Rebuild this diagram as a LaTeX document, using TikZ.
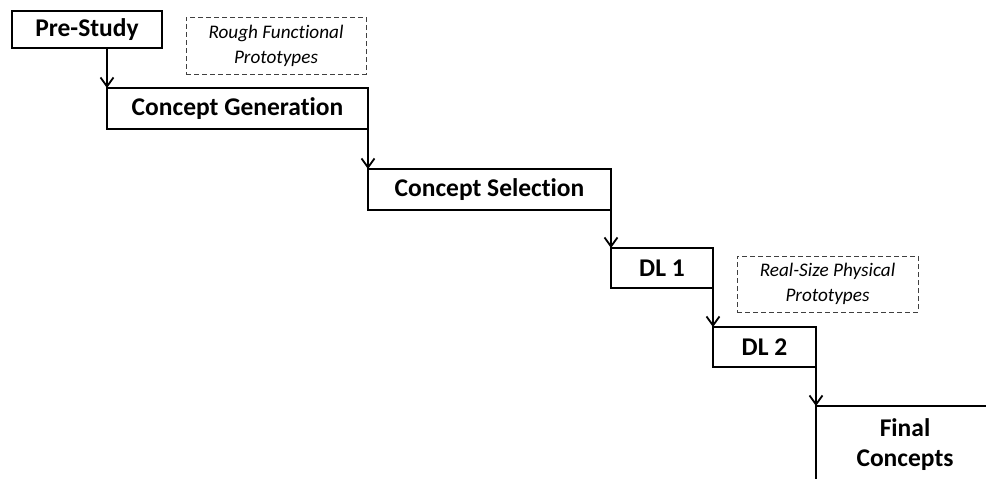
\documentclass[tikz,border=0pt]{standalone}
\usepackage{fontspec}
\setmainfont{Carlito}[Ligatures=NoCommon]
\usetikzlibrary{arrows.meta}
\begin{document}
\begin{tikzpicture}[x=1pt,y=-1pt,
  stage/.style={draw=black,line width=2.7pt,anchor=north west,inner sep=0pt,outer sep=0pt,
    font=\fontsize{25.5}{30}\selectfont\bfseries},
  note/.style={draw=black!75,line width=0.9pt,dash pattern=on 5pt off 3pt,anchor=north west,
    inner sep=0pt,outer sep=0pt,align=center,font=\fontsize{19.2}{25}\selectfont\itshape},
  arr/.style={line width=1.8pt,-{Straight Barb[length=9pt,width=13pt,line width=1.8pt]}}]
\useasboundingbox (0,0) rectangle (986,479);
\node[stage,minimum width=150pt,minimum height=37pt] (pre) at (12,11) {Pre-Study};
\node[stage,minimum width=261pt,minimum height=41pt] (cg) at (107,88) {Concept Generation};
\node[stage,minimum width=243pt,minimum height=41pt] (cs) at (368,169) {Concept Selection};
\node[stage,minimum width=102pt,minimum height=40pt] (dl1) at (611,248) {DL 1};
\node[stage,minimum width=103pt,minimum height=40pt] (dl2) at (713,327) {DL 2};
\node[stage,minimum width=200pt,minimum height=110pt] (fin) at (816,406) {};
\node[font=\fontsize{25.5}{30}\selectfont\bfseries,align=center,inner sep=0pt] (fintext) at (905,445) {Final\\Concepts};
\node[note,minimum width=180pt,minimum height=57pt] (rough) at (186,17) {Rough Functional\\Prototypes};
\node[note,minimum width=181pt,minimum height=56pt] (real) at (737,256) {Real-Size Physical\\Prototypes};
\draw[arr] (pre.south -| cg.north west) -- (cg.north west);
\draw[arr] (cg.south east) -- (cs.north west);
\draw[arr] (cs.south east) -- (dl1.north west);
\draw[arr] (dl1.south east) -- (dl2.north west);
\draw[arr] (dl2.south east) -- (fin.north west);
\end{tikzpicture}
\end{document}
